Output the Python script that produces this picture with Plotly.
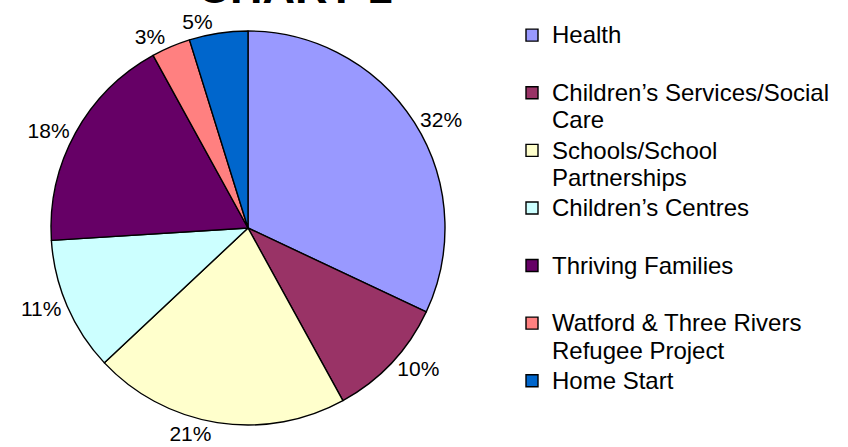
import plotly.graph_objects as go

categories = [
    "Health",
    "Children\u2019s Services/Social<br>Care",
    "Schools/School<br>Partnerships",
    "Children\u2019s Centres",
    "Thriving Families",
    "Watford & Three Rivers<br>Refugee Project",
    "Home Start",
]
values = [32, 10, 21, 11, 18, 3.2, 4.8]
colors = ["#9999FF", "#993366", "#FFFFCC", "#CCFFFF", "#660066", "#FF8080", "#0066CC"]
title_text = "CHART 1"

W, H = 848, 447
cx, cy, R = 248, 228, 197
FONT = "Liberation Sans, Arial"


def legend_name(s):
    if "<br>" not in s:
        s = s + "<br> "
    return ('<span style="font-size:24px">'
            + s.replace("<br>", '</span><br><span style="font-size:24px">')
            + "</span>")


labels = [legend_name(c) for c in categories]
domain = dict(x=[(cx - R) / W, (cx + R) / W], y=[(H - cy - R) / H, (H - cy + R) / H])
n = len(values)
# main pie: all labels except the last one (drawn by an overlay so labels don't get scooted)
pos_main = ["outside"] * (n - 1) + ["none"]
pos_overlay = ["none"] * (n - 1) + ["outside"]

fig = go.Figure()
fig.add_trace(go.Pie(
    labels=labels,
    values=values,
    sort=False,
    direction="clockwise",
    rotation=0,
    marker=dict(colors=colors, line=dict(color="black", width=1.4)),
    textposition=pos_main,
    texttemplate="%{percent:.0%}",
    textfont=dict(family=FONT, size=21, color="black"),
    hoverinfo="label+percent",
    domain=domain,
    automargin=False,
))
fig.add_trace(go.Pie(
    labels=labels,
    values=values,
    sort=False,
    direction="clockwise",
    rotation=0,
    marker=dict(colors=["rgba(0,0,0,0)"] * n, line=dict(width=0)),
    textposition=pos_overlay,
    texttemplate="%{percent:.0%}",
    textfont=dict(family=FONT, size=21, color="black"),
    hoverinfo="skip",
    domain=domain,
    automargin=False,
    showlegend=False,
))

fig.update_layout(
    width=W, height=H,
    margin=dict(l=0, r=0, t=0, b=0),
    paper_bgcolor="white",
    plot_bgcolor="white",
    font=dict(family=FONT, color="black"),
    title=dict(
        text="<b>" + title_text + "</b>",
        font=dict(size=45, family=FONT, color="black"),
        x=295 / W, xanchor="center", xref="container",
        y=1 - 3 / H, yanchor="bottom", yref="container",
    ),
    legend=dict(
        x=512 / W, xanchor="left",
        y=1 - 15 / H, yanchor="top",
        font=dict(size=21, family=FONT, color="black"),
        valign="top",
        bgcolor="rgba(0,0,0,0)",
        itemwidth=30,
        tracegroupgap=0,
    ),
    showlegend=True,
)

fig.write_html(
    "out.html",
    config={"displayModeBar": False},
    post_script="document.body.style.margin='0';",
)
